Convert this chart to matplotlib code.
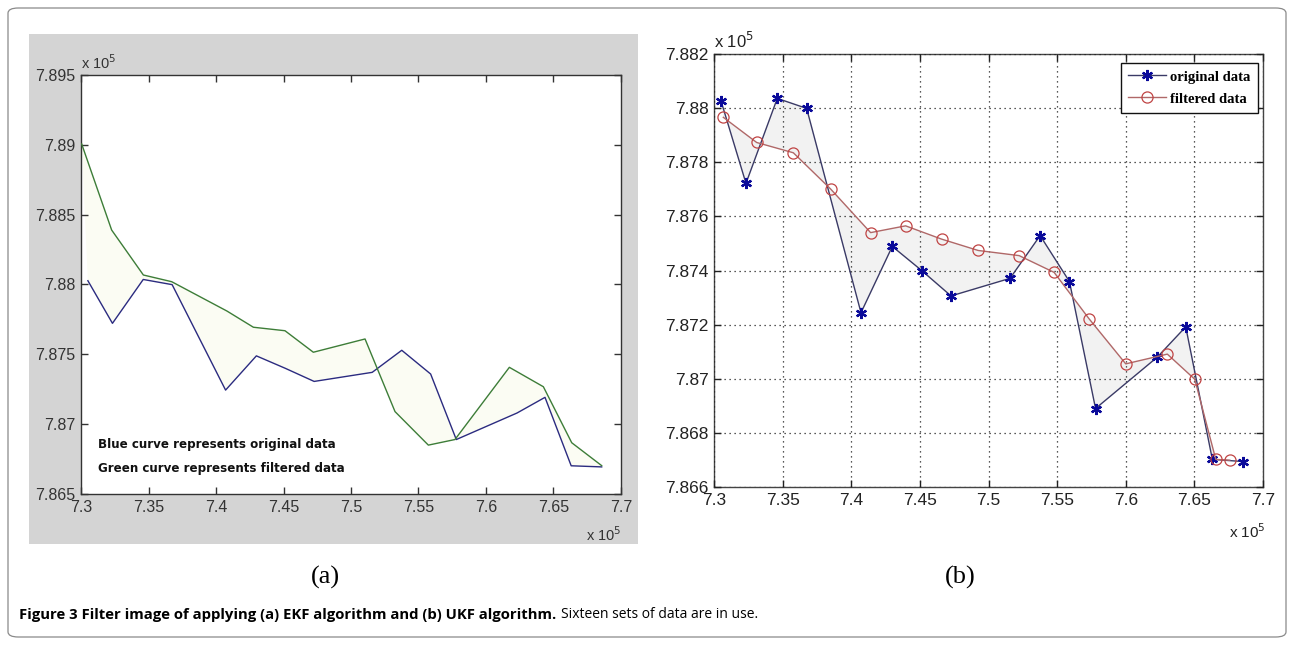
import numpy as np
import matplotlib
matplotlib.use("Agg")
import matplotlib.pyplot as plt
from matplotlib.patches import FancyBboxPatch, Rectangle
from matplotlib.ticker import FuncFormatter

plt.rcParams['font.family'] = ['Liberation Sans', 'DejaVu Sans']

# original measurements (x 10^5), same in both panels
orig_x = [7.3051, 7.3233, 7.3461, 7.3675, 7.4071, 7.4299, 7.4513, 7.4727,
          7.5157, 7.5376, 7.5590, 7.5780, 7.6230, 7.6437, 7.6631, 7.6857]
orig_y = [7.88027, 7.87722, 7.88036, 7.87999, 7.87244, 7.87489, 7.87400, 7.87306,
          7.87371, 7.87529, 7.87359, 7.86890, 7.87080, 7.87192, 7.86702, 7.86694]

# EKF filtered (panel a)
ekf_x = [7.3005, 7.3227, 7.3462, 7.3672, 7.4081, 7.4277, 7.4511, 7.4721,
         7.5104, 7.5326, 7.5573, 7.5770, 7.6173, 7.6425, 7.6635, 7.6857]
ekf_y = [7.89006, 7.88390, 7.88068, 7.88020, 7.87810, 7.87694, 7.87669, 7.87515,
         7.87610, 7.87090, 7.86850, 7.86890, 7.87407, 7.87268, 7.86867, 7.86703]

# UKF filtered (panel b)
ukf_x = [7.3068, 7.3311, 7.3578, 7.3850, 7.4141, 7.4396, 7.4658, 7.4925,
         7.5223, 7.5478, 7.5732, 7.6000, 7.6303, 7.6503, 7.6656, 7.6758]
ukf_y = [7.87966, 7.87873, 7.87835, 7.87701, 7.87540, 7.87565, 7.87516, 7.87474,
         7.87455, 7.87393, 7.87222, 7.87055, 7.87091, 7.86998, 7.86702, 7.86699]

a_xticks = np.arange(7.3, 7.7001, 0.05)
a_yticks = np.arange(7.865, 7.8951, 0.005)
b_yticks = np.arange(7.866, 7.8821, 0.002)

W, H = 1294, 645
fig = plt.figure(figsize=(W / 100, H / 100), dpi=100)
fig.patch.set_facecolor("white")

def fx(px):
    return px / W

def fy(py):
    return 1 - py / H

# outer rounded frame
fig.patches.append(FancyBboxPatch((fx(8), fy(637)), fx(1278), (629) / H,
                                  boxstyle="round,pad=0,rounding_size=0.008",
                                  transform=fig.transFigure, fill=False,
                                  edgecolor="#8a8a8a", linewidth=0.9, zorder=-10))
# grey background of matlab figure (a)
fig.patches.append(Rectangle((fx(29), fy(544)), fx(609), 510 / H,
                             transform=fig.transFigure, facecolor="#d4d4d4",
                             edgecolor="none", zorder=-10))

g = lambda v, p: "%g" % round(v, 4)

# ---------------- panel (a) ----------------
ax1 = fig.add_axes([fx(81), fy(494), 540 / W, 419 / H])
ax1.set_facecolor("white")
poly_x = orig_x + ekf_x[::-1]
poly_y = orig_y + ekf_y[::-1]
ax1.fill(poly_x, poly_y, color="#fbfcf3", zorder=1, linewidth=0)
ax1.plot(orig_x, orig_y, color="#2b2b80", linewidth=1.0, zorder=3)
ax1.plot(ekf_x, ekf_y, color="#3d7d38", linewidth=1.0, zorder=3)
ax1.set_xlim(7.3, 7.7)
ax1.set_ylim(7.865, 7.895)
ax1.set_xticks(a_xticks)
ax1.set_yticks(a_yticks)
ax1.xaxis.set_major_formatter(FuncFormatter(g))
ax1.yaxis.set_major_formatter(FuncFormatter(g))
ax1.tick_params(direction="in", length=5, width=1, top=True, right=True,
                labelsize=11.5, colors="#333333", pad=4)
for s in ax1.spines.values():
    s.set_color("#333333")
    s.set_linewidth(1.0)
ax1.text(0.0, 1.008, r"x 10$^5$", transform=ax1.transAxes, fontsize=10.5,
         color="#333333", ha="left", va="bottom")
ax1.text(1.0, -0.098, r"x 10$^5$", transform=ax1.transAxes, fontsize=10.5,
         color="#333333", ha="right", va="center")
ax1.text(0.032, 0.118, "Blue curve represents original data", transform=ax1.transAxes,
         fontsize=8.6, fontweight="bold", family="DejaVu Sans", color="#111111", va="center")
ax1.text(0.032, 0.061, "Green curve represents filtered data", transform=ax1.transAxes,
         fontsize=8.6, fontweight="bold", family="DejaVu Sans", color="#111111", va="center")

# ---------------- panel (b) ----------------
ax2 = fig.add_axes([fx(714), fy(487), 549 / W, 433 / H])
ax2.set_facecolor("white")
poly_x = orig_x + ukf_x[::-1]
poly_y = orig_y + ukf_y[::-1]
ax2.fill(poly_x, poly_y, color="#f2f2f2", zorder=1, linewidth=0)
ax2.grid(True, color="#222222", linestyle=(0, (1, 3)), linewidth=0.9, zorder=2)
ax2.set_axisbelow(False)
ax2.plot(orig_x, orig_y, color="#3a3a66", linewidth=1.0, marker=(6, 2, 0),
         markersize=8, markerfacecolor="#0a0a9a", markeredgecolor="#0a0a9a",
         markeredgewidth=1.6, label="original data", zorder=4)
ax2.plot(ukf_x, ukf_y, color="#b06868", linewidth=1.0, marker="o",
         markersize=8, markerfacecolor="none", markeredgecolor="#c04444",
         markeredgewidth=0.9, label="filtered data", zorder=4)
ax2.set_xlim(7.3, 7.7)
ax2.set_ylim(7.866, 7.882)
ax2.set_xticks(a_xticks)
ax2.set_yticks(b_yticks)
ax2.xaxis.set_major_formatter(FuncFormatter(g))
ax2.yaxis.set_major_formatter(FuncFormatter(g))
ax2.tick_params(direction="in", length=5, width=1, top=True, right=True,
                labelsize=12.5, colors="#222222", pad=4)
for s in ax2.spines.values():
    s.set_color("#444444")
    s.set_linewidth(1.0)
ax2.text(0.0, 1.008, r"x 10$^5$", transform=ax2.transAxes, fontsize=12,
         color="#222222", ha="left", va="bottom")
ax2.text(1.005, -0.104, r"x 10$^5$", transform=ax2.transAxes, fontsize=11,
         color="#222222", ha="right", va="center")
leg = ax2.legend(loc="upper right", bbox_to_anchor=(0.991, 0.979), borderaxespad=0,
                 fancybox=False, framealpha=1, edgecolor="#111111",
                 prop={"family": "Liberation Serif", "weight": "bold", "size": 10.5},
                 handlelength=2.6, handletextpad=0.3, borderpad=0.5, labelspacing=0.6)
leg.get_frame().set_linewidth(1.0)

# panel labels
fig.text(fx(325), fy(577), "(a)", fontsize=19, family="Liberation Serif",
         ha="center", va="center")
fig.text(fx(960), fy(577), "(b)", fontsize=19, family="Liberation Serif",
         ha="center", va="center")

# caption
cap1 = fig.text(fx(19), fy(615), "Figure 3 Filter image of applying (a) EKF algorithm and (b) UKF algorithm.",
                fontsize=10.7, fontweight="bold", family="Open Sans", va="center", ha="left")
fig.canvas.draw()
bb = cap1.get_window_extent()
fig.text((bb.x1 + 5) / W, fy(615), "Sixteen sets of data are in use.", fontsize=10.0,
         family="Open Sans", va="center", ha="left")

fig.savefig("out.png", dpi=100)
